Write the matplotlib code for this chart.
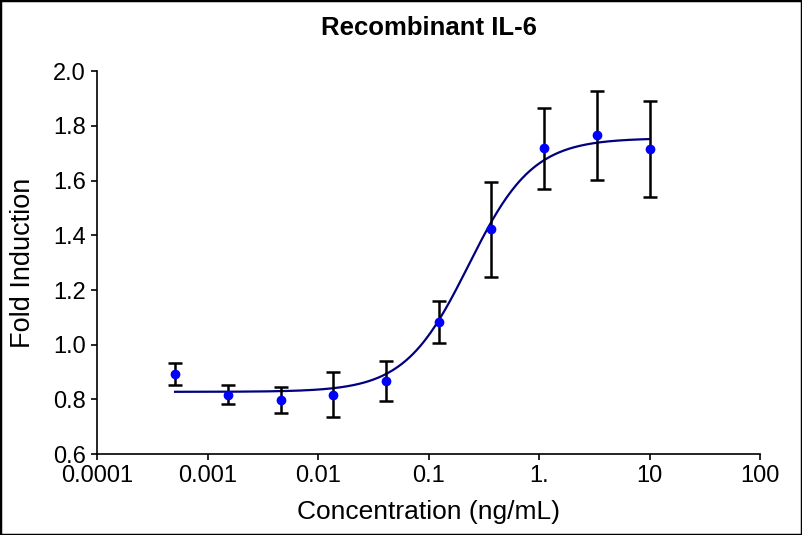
import numpy as np
import matplotlib.pyplot as plt
from matplotlib.patches import Rectangle

plt.rcParams['font.family'] = ['Liberation Sans', 'DejaVu Sans']

# dose response data
conc = [0.000508, 0.00152, 0.00457, 0.0137, 0.0412, 0.123, 0.370, 1.11, 3.33, 10.0]
fold = [0.893, 0.817, 0.797, 0.817, 0.867, 1.083, 1.422, 1.718, 1.765, 1.716]
err = [0.040, 0.035, 0.047, 0.082, 0.073, 0.077, 0.173, 0.148, 0.163, 0.175]

# 4PL fit parameters (bottom, top, EC50, hill)
bottom, top, ec50, hill = 0.828, 1.755, 0.23, 1.5

xticks = [0.0001, 0.001, 0.01, 0.1, 1, 10, 100]
xticklabels = ["0.0001", "0.001", "0.01", "0.1", "1.", "10", "100"]
yticks = [0.6, 0.8, 1.0, 1.2, 1.4, 1.6, 1.8, 2.0]

fig = plt.figure(figsize=(8.02, 5.35), dpi=100)
ax = fig.add_axes([0.121, 0.151, 0.827, 0.716])

xs = np.logspace(np.log10(conc[0]), np.log10(conc[-1]), 300)
ys = bottom + (top - bottom) / (1 + (ec50 / xs) ** hill)
ax.plot(xs, ys, color='#000080', lw=1.6, zorder=2)

ax.errorbar(conc, fold, yerr=err, fmt='none', ecolor='black', elinewidth=1.8,
            capsize=5, capthick=1.8, zorder=3)
ax.plot(conc, fold, 'o', color='#0000ff', ms=6, zorder=4)

ax.set_xscale('log')
ax.set_xlim(0.0001, 100)
ax.set_ylim(0.6, 2.0)
ax.set_xticks(xticks)
ax.set_xticklabels(xticklabels)
ax.minorticks_off()
ax.set_yticks(yticks)
ax.set_yticklabels([f"{v:.1f}" for v in yticks])

for s in ['top', 'right']:
    ax.spines[s].set_visible(False)
for s in ['left', 'bottom']:
    ax.spines[s].set_linewidth(1.2)
ax.tick_params(direction='out', length=4, width=1.2, labelsize=17, pad=4)

ax.set_title("Recombinant IL-6", fontsize=18.5, fontweight='bold', pad=26)
ax.set_xlabel("Concentration (ng/mL)", fontsize=19, labelpad=9)
ax.set_ylabel("Fold Induction", fontsize=19.5, labelpad=12)

fig.patches.append(Rectangle((0, 0), 1, 1, transform=fig.transFigure,
                             fill=False, edgecolor='black', lw=2.5))

fig.savefig("out.png", dpi=100)
